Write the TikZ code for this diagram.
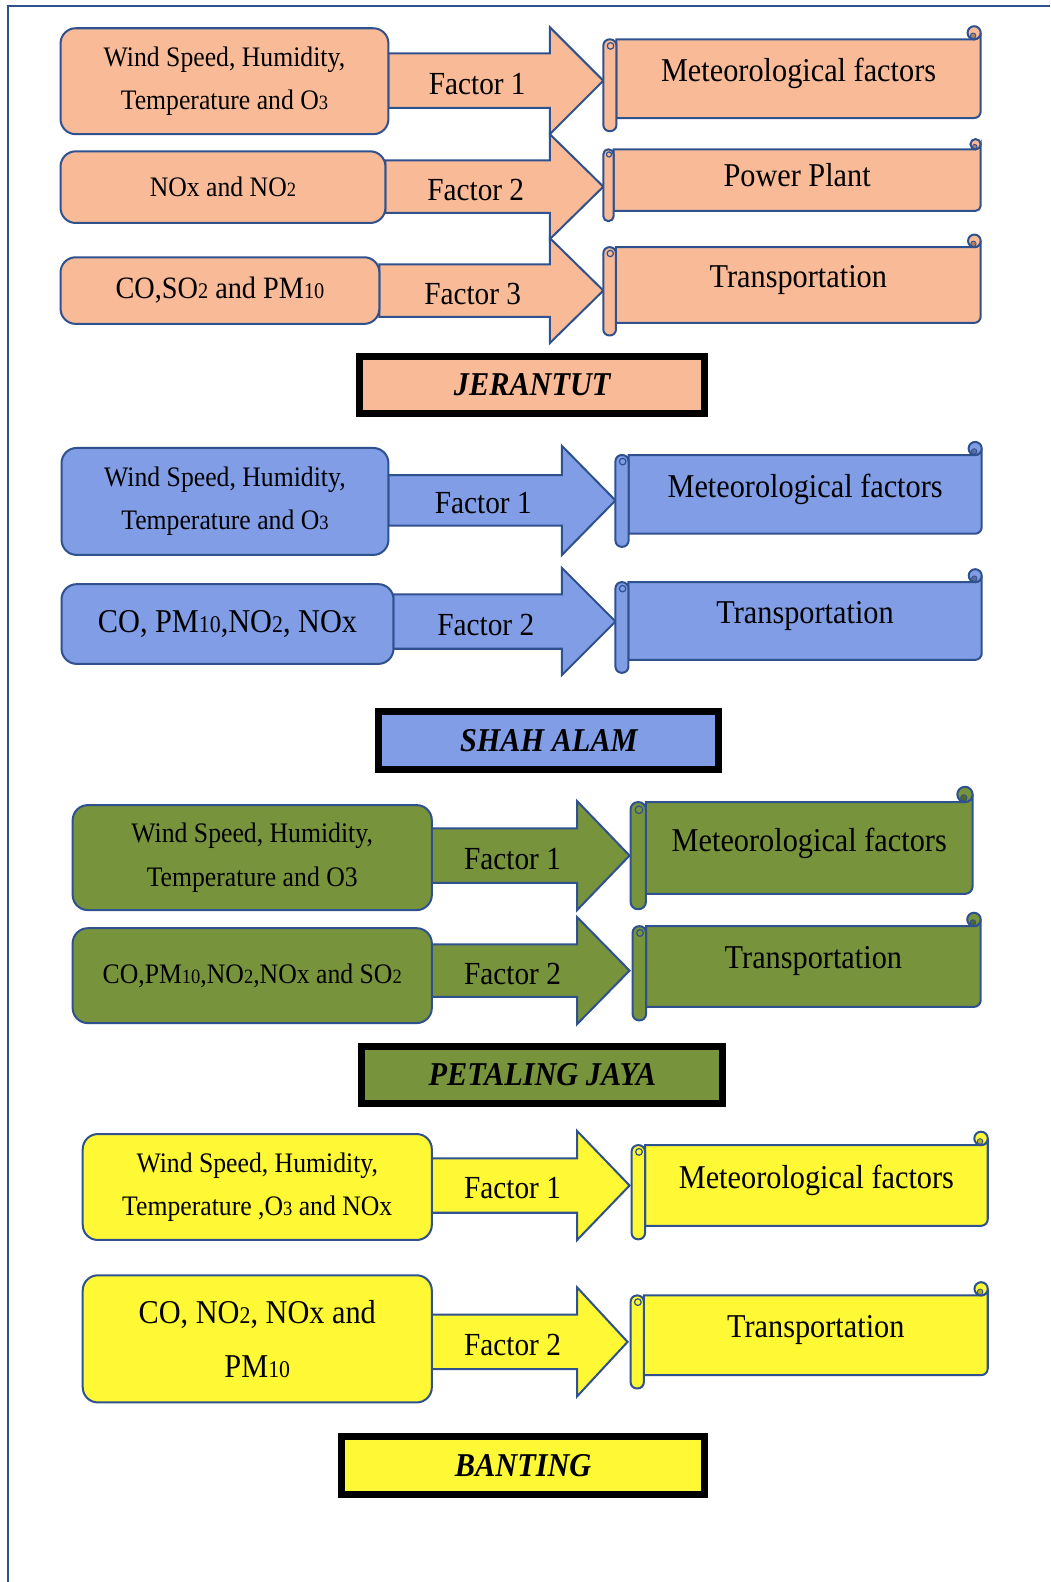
\documentclass[tikz,border=0pt]{standalone}
\usepackage{fontspec}
% narrow, tall serif lettering
\setmainfont{Liberation Serif}[FakeStretch=0.91]
\usepackage{graphicx}

\definecolor{edge}{HTML}{2F528F}
\definecolor{salmon}{HTML}{F9BA98}
\definecolor{sky}{HTML}{809DE6}
\definecolor{olive}{HTML}{77933C}
\definecolor{lemon}{HTML}{FFF835}

% small digits set on the baseline, as in O3 or PM10
\newcommand\smdig[1]{\scalebox{0.72}{#1}}

\tikzset{
  frameline/.style={draw=edge, line width=2.5pt},
  blockline/.style={draw=edge, line width=2pt, line join=miter},
  srcbox/.style={draw=edge, line width=2pt, rounded corners=15pt, align=center, inner sep=0pt, text=black},
  factortext/.style={font=\fontsize{31.9}{36}\selectfont, inner sep=0pt, text=black},
  scrolltext/.style={font=\fontsize{33}{38}\selectfont, inner sep=0pt, text=black},
  titlebox/.style={draw=black, line width=7pt, inner sep=0pt, text=black,
    font=\fontsize{33}{38}\selectfont\bfseries\itshape},
}

% block arrow: name, colour, tail x, head base x, tip x, centre y, shaft half height, head half height, label
\newcommand\bigarrow[9]{%
  \filldraw[blockline, fill=#2] (#3,{-#6+#7}) -- (#4,{-#6+#7}) -- (#4,{-#6+#8}) -- (#5,-#6)
    -- (#4,{-#6-#8}) -- (#4,{-#6-#7}) -- (#3,{-#6-#7}) -- cycle;
  \node[factortext] (#1) at ({(#3+#4)/2+8},{-#6-3}) {#9};}

% rounded source box: name, colour, x0, y0, x1, y1, font size, line skip, text
\newcommand\srcbox[9]{%
  \node[srcbox, fill=#2, font=\fontsize{#7}{#8}\selectfont,
    minimum width={#5-#3}, minimum height={#6-#4}] (#1) at ({(#3+#5)/2},{-(#4+#6)/2}) {#9};}

% horizontal scroll banner: name, colour, left, body top, right, body bottom, text
\newcommand\scrollbanner[7]{%
  \pgfmathsetmacro\scrH{(#6-#4)/6}%
  \pgfmathsetmacro\scrA{\scrH/2}%
  \filldraw[blockline, fill=#2] ({#3+\scrH},-#4) -- ({#5-\scrA},-#4)
    arc[start angle=-90, end angle=0, radius=\scrA] -- (#5,{-#6+\scrA})
    arc[start angle=0, end angle=-90, radius=\scrA] -- ({#3+\scrH},-#6) -- cycle;
  \filldraw[blockline, fill=#2] ({#5-\scrA},{-#4+\scrA}) circle[radius=\scrA];
  \filldraw[draw=edge, line width=0.8pt, fill=#2!70!black] ({#5-\scrA-0.15*\scrA},{-#4+0.55*\scrA}) circle[radius=0.42*\scrA];
  \filldraw[blockline, fill=#2, rounded corners={0.95*\scrA pt}] (#3,-#4) rectangle ({#3+\scrH},{-#6-\scrH});
  \draw[draw=edge, line width=1.2pt] ({#3+1.1*\scrA},{-#4-\scrA}) circle[radius={\scrA*0.5}];
  \node[scrolltext] (#1) at ({(#3+\scrH+#5)/2},{-(#4+#6)/2+5}) {#7};}

% station title: name, colour, x0, y0, x1, y1, text
\newcommand\sitetitle[7]{%
  \node[titlebox, fill=#2, minimum width={#5-#3-7}, minimum height={#6-#4-7}]
    (#1) at ({(#3+#5)/2},{-(#4+#6)/2}) {#7};}

\begin{document}
\begin{tikzpicture}[x=1pt, y=1pt]
\useasboundingbox (0,0) rectangle (1041,-1568);
\fill[white] (0,0) rectangle (1041,-1568);
\draw[frameline] (1041,-6) -- (8,-6) -- (8,-1568);

% ---------------- Jerantut ----------------
\bigarrow{ja1}{salmon}{385}{545}{598}{80}{27}{53}{Factor 1}
\bigarrow{ja2}{salmon}{382}{545}{598}{185}{26}{52}{Factor 2}
\bigarrow{ja3}{salmon}{376}{545}{598}{288}{26}{52}{Factor 3}
\srcbox{jb1}{salmon}{60}{28}{385}{133}{28}{43}{Wind Speed, Humidity,\\Temperature and O\smdig{3}}
\srcbox{jb2}{salmon}{60}{150}{382}{221}{28}{43}{NOx and NO\smdig{2}}
\srcbox{jb3}{salmon}{60}{255}{376}{321}{30.8}{43}{CO,SO\smdig{2} and PM\smdig{10}}
\scrollbanner{js1}{salmon}{598}{39}{972}{117}{Meteorological factors}
\scrollbanner{js2}{salmon}{598}{148}{972}{209}{Power Plant}
\scrollbanner{js3}{salmon}{598}{245}{972}{320}{Transportation}
\sitetitle{jt}{salmon}{353}{350}{702}{413}{JERANTUT}

% ---------------- Shah Alam ----------------
\bigarrow{sa1}{sky}{385}{557}{610}{496}{25}{54}{Factor 1}
\bigarrow{sa2}{sky}{390}{557}{610}{616}{27}{53}{Factor 2}
\srcbox{sb1}{sky}{61}{444}{385}{550}{28}{43}{Wind Speed, Humidity,\\Temperature and O\smdig{3}}
\srcbox{sb2}{sky}{61}{579}{390}{658}{33}{43}{CO, PM\smdig{10},NO\smdig{2}, NOx}
\scrollbanner{ss1}{sky}{610}{451}{973}{529}{Meteorological factors}
\scrollbanner{ss2}{sky}{610}{577}{973}{654}{Transportation}
\sitetitle{st}{sky}{372}{702}{716}{766}{SHAH ALAM}

% ---------------- Petaling Jaya ----------------
\bigarrow{pa1}{olive}{428}{572}{624}{848}{27}{54}{Factor 1}
\bigarrow{pa2}{olive}{428}{572}{624}{962}{26}{53}{Factor 2}
\srcbox{pb1}{olive}{72}{798}{428}{902}{28}{43}{Wind Speed, Humidity,\\Temperature and O3}
\srcbox{pb2}{olive}{72}{920}{428}{1014}{28}{43}{CO,PM\smdig{10},NO\smdig{2},NOx and SO\smdig{2}}
\scrollbanner{ps1}{olive}{625}{795}{964}{886}{Meteorological factors}
\scrollbanner{ps2}{olive}{627}{918}{972}{998}{Transportation}
\sitetitle{pt}{olive}{355}{1034}{720}{1097}{PETALING JAYA}

% ---------------- Banting ----------------
\bigarrow{ba1}{lemon}{428}{572}{624}{1175}{27}{54}{Factor 1}
\bigarrow{ba2}{lemon}{428}{572}{622}{1330}{27}{54}{Factor 2}
\srcbox{bb1}{lemon}{82}{1124}{428}{1229}{28}{43}{Wind Speed, Humidity,\\Temperature ,O\smdig{3} and NOx}
\srcbox{bb2}{lemon}{82}{1264}{428}{1390}{33}{53}{CO, NO\smdig{2}, NOx and\\PM\smdig{10}}
\scrollbanner{bs1}{lemon}{626}{1135}{979}{1215}{Meteorological factors}
\scrollbanner{bs2}{lemon}{625}{1284}{979}{1363}{Transportation}
\sitetitle{bt}{lemon}{335}{1420}{702}{1485}{BANTING}
\end{tikzpicture}
\end{document}
